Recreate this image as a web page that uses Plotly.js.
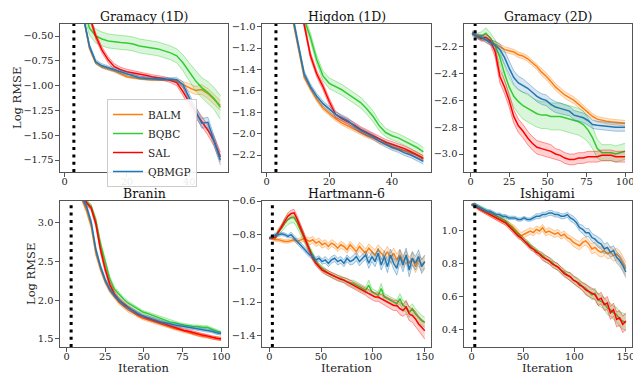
<!DOCTYPE html>
<html><head><meta charset="utf-8">
<script src="https://cdn.plot.ly/plotly-3.0.1.min.js"></script>
<style>html,body{margin:0;padding:0;background:#fff;overflow:hidden}#chart{width:633px;height:375px}</style>
</head><body><div id="chart"></div>
<script>
// ---------- data ----------
const methods = ['BALM','BQBC','SAL','QBMGP'];
const panelTitles = ['Gramacy (1D)','Higdon (1D)','Gramacy (2D)','Branin','Hartmann-6','Ishigami'];

const x50 = [2,4,6,8,10,12,14,16,18,20,22,24,26,28,30,32,34,36,38,40,42,44,46,48,50];
const x100 = [1,4,7,10,13,16,19,22,25,28,31,34,37,40,43,46,49,52,55,58,61,64,67,70,73,76,79,82,85,88,91,94,97,100];
const x150 = [0,3,6,9,12,15,18,21,24,27,30,33,36,39,42,45,48,51,54,57,60,63,66,69,72,75,78,81,84,87,90,93,96,99,102,105,108,111,114,117,120,123,126,129,132,135,138,141,144,147,150];

// Gramacy (1D)
const g1_balm = [0.1,-0.1,-0.3,-0.62,-0.77,-0.81,-0.83,-0.85,-0.88,-0.91,-0.92,-0.93,-0.935,-0.94,-0.94,-0.94,-0.94,-0.95,-0.99,-1.02,-1.05,-1.04,-1.08,-1.14,-1.2];
const g1_bqbc = [0.3,0.1,-0.2,-0.42,-0.5,-0.53,-0.55,-0.56,-0.565,-0.57,-0.58,-0.6,-0.61,-0.62,-0.63,-0.65,-0.67,-0.7,-0.77,-0.86,-0.95,-1.02,-1.07,-1.13,-1.22];
const g1_sal = [0.3,0.1,-0.1,-0.3,-0.5,-0.64,-0.74,-0.81,-0.84,-0.86,-0.87,-0.885,-0.895,-0.91,-0.92,-0.93,-0.95,-0.97,-1.06,-1.17,-1.27,-1.36,-1.45,-1.56,-1.72];
const g1_qbmgp = [0.1,-0.1,-0.3,-0.6,-0.76,-0.8,-0.82,-0.84,-0.86,-0.88,-0.9,-0.92,-0.925,-0.93,-0.93,-0.935,-0.935,-0.94,-0.99,-1.12,-1.24,-1.38,-1.37,-1.57,-1.75];
const g1_balm_sd = [0.02,0.02,0.02,0.02,0.015,0.015,0.015,0.015,0.015,0.01,0.01,0.01,0.01,0.01,0.01,0.01,0.01,0.015,0.03,0.04,0.04,0.05,0.05,0.05,0.05];
const g1_bqbc_sd = [0.07,0.07,0.07,0.07,0.07,0.07,0.07,0.07,0.07,0.07,0.07,0.07,0.07,0.07,0.07,0.07,0.07,0.07,0.08,0.09,0.1,0.1,0.11,0.11,0.12];
const g1_sal_sd = [0.03,0.03,0.03,0.03,0.03,0.03,0.03,0.03,0.025,0.025,0.02,0.02,0.02,0.02,0.02,0.02,0.02,0.03,0.04,0.04,0.05,0.05,0.05,0.05,0.05];
const g1_qbmgp_sd = [0.02,0.02,0.02,0.02,0.02,0.02,0.02,0.02,0.02,0.015,0.015,0.015,0.015,0.015,0.015,0.015,0.015,0.02,0.03,0.04,0.04,0.05,0.05,0.05,0.05];

// Higdon (1D)
const h_balm = [0.0,-0.3,-0.6,-0.87,-1.17,-1.47,-1.58,-1.68,-1.76,-1.81,-1.86,-1.9,-1.93,-1.96,-1.99,-2.02,-2.04,-2.07,-2.09,-2.12,-2.14,-2.16,-2.18,-2.2,-2.24];
const h_bqbc = [0.0,-0.2,-0.4,-0.6,-0.78,-0.93,-1.1,-1.31,-1.46,-1.53,-1.56,-1.59,-1.63,-1.67,-1.71,-1.77,-1.84,-1.93,-1.99,-2.02,-2.04,-2.07,-2.1,-2.13,-2.17];
const h_sal = [0.0,-0.2,-0.4,-0.6,-0.8,-0.98,-1.27,-1.44,-1.56,-1.7,-1.82,-1.86,-1.89,-1.92,-1.96,-1.99,-2.02,-2.05,-2.08,-2.1,-2.12,-2.14,-2.17,-2.2,-2.23];
const h_qbmgp = [0.0,-0.3,-0.6,-0.85,-1.15,-1.44,-1.56,-1.65,-1.72,-1.77,-1.82,-1.85,-1.88,-1.93,-1.97,-2.0,-2.03,-2.07,-2.1,-2.13,-2.15,-2.18,-2.2,-2.23,-2.26];
const h_balm_sd = [0.02,0.02,0.02,0.02,0.02,0.02,0.02,0.02,0.02,0.02,0.02,0.02,0.02,0.02,0.02,0.02,0.02,0.02,0.02,0.02,0.02,0.02,0.02,0.02,0.02];
const h_bqbc_sd = [0.04,0.04,0.04,0.04,0.04,0.04,0.04,0.04,0.045,0.05,0.05,0.05,0.05,0.05,0.05,0.05,0.05,0.045,0.04,0.04,0.04,0.04,0.04,0.04,0.04];
const h_sal_sd = [0.025,0.025,0.025,0.025,0.025,0.025,0.03,0.03,0.03,0.03,0.03,0.025,0.025,0.025,0.025,0.025,0.025,0.025,0.025,0.025,0.025,0.025,0.025,0.025,0.025];
const h_qbmgp_sd = [0.025,0.025,0.025,0.025,0.025,0.025,0.025,0.025,0.025,0.025,0.025,0.025,0.025,0.025,0.025,0.025,0.025,0.025,0.025,0.025,0.025,0.025,0.025,0.025,0.025];

// Gramacy (2D)
const g2_balm = [-2.10,-2.12,-2.13,-2.15,-2.17,-2.18,-2.20,-2.22,-2.23,-2.24,-2.26,-2.27,-2.29,-2.32,-2.35,-2.39,-2.42,-2.46,-2.50,-2.53,-2.56,-2.58,-2.60,-2.63,-2.66,-2.69,-2.72,-2.74,-2.75,-2.755,-2.76,-2.765,-2.77,-2.77];
const g2_bqbc = [-2.10,-2.12,-2.12,-2.10,-2.14,-2.19,-2.28,-2.40,-2.50,-2.57,-2.61,-2.64,-2.66,-2.68,-2.70,-2.71,-2.71,-2.72,-2.72,-2.72,-2.73,-2.74,-2.75,-2.76,-2.78,-2.82,-2.88,-2.96,-2.99,-2.99,-2.99,-3.0,-2.99,-2.98];
const g2_sal = [-2.10,-2.12,-2.14,-2.13,-2.16,-2.24,-2.42,-2.50,-2.60,-2.72,-2.79,-2.83,-2.88,-2.92,-2.95,-2.96,-2.97,-2.98,-3.0,-3.01,-3.03,-3.04,-3.04,-3.03,-3.03,-3.02,-3.02,-3.02,-3.01,-3.01,-3.01,-3.02,-3.02,-3.02];
const g2_qbmgp = [-2.10,-2.12,-2.13,-2.15,-2.17,-2.19,-2.22,-2.28,-2.36,-2.43,-2.47,-2.49,-2.51,-2.54,-2.57,-2.59,-2.60,-2.63,-2.65,-2.66,-2.67,-2.68,-2.71,-2.72,-2.73,-2.75,-2.78,-2.785,-2.79,-2.79,-2.795,-2.8,-2.8,-2.8];
const g2_balm_sd = [0.01,0.01,0.015,0.015,0.015,0.02,0.02,0.02,0.02,0.02,0.02,0.02,0.02,0.02,0.02,0.025,0.025,0.025,0.025,0.025,0.025,0.025,0.025,0.025,0.025,0.025,0.02,0.02,0.02,0.02,0.02,0.02,0.02,0.02];
const g2_bqbc_sd = [0.02,0.02,0.03,0.04,0.04,0.04,0.05,0.06,0.07,0.08,0.09,0.1,0.1,0.1,0.1,0.1,0.1,0.1,0.1,0.1,0.1,0.1,0.1,0.1,0.1,0.09,0.08,0.07,0.06,0.06,0.06,0.06,0.06,0.06];
const g2_sal_sd = [0.01,0.015,0.02,0.02,0.03,0.04,0.05,0.05,0.05,0.05,0.05,0.05,0.05,0.05,0.05,0.05,0.05,0.05,0.04,0.04,0.04,0.04,0.04,0.04,0.04,0.04,0.04,0.04,0.04,0.04,0.04,0.04,0.04,0.04];
const g2_qbmgp_sd = [0.01,0.015,0.02,0.02,0.02,0.03,0.04,0.05,0.05,0.05,0.05,0.05,0.04,0.04,0.04,0.04,0.04,0.04,0.04,0.04,0.035,0.035,0.035,0.035,0.035,0.035,0.03,0.03,0.03,0.03,0.03,0.03,0.03,0.03];

// Branin
const b_balm = [4.0,3.8,3.55,3.3,3.15,2.95,2.6,2.4,2.24,2.12,2.04,1.97,1.92,1.87,1.84,1.80,1.77,1.75,1.73,1.71,1.69,1.67,1.65,1.63,1.62,1.60,1.59,1.57,1.56,1.54,1.53,1.52,1.51,1.50];
const b_bqbc = [4.1,3.9,3.65,3.4,3.26,3.2,3.02,2.72,2.48,2.27,2.14,2.07,2.01,1.96,1.92,1.88,1.85,1.83,1.81,1.78,1.76,1.74,1.72,1.71,1.69,1.68,1.67,1.66,1.66,1.65,1.65,1.63,1.6,1.58];
const b_sal = [4.1,3.9,3.65,3.4,3.25,3.18,2.98,2.65,2.4,2.2,2.08,2.0,1.95,1.9,1.86,1.82,1.79,1.77,1.75,1.73,1.71,1.69,1.67,1.65,1.63,1.61,1.6,1.58,1.56,1.55,1.54,1.52,1.51,1.5];
const b_qbmgp = [4.0,3.8,3.55,3.32,3.2,3.0,2.65,2.43,2.26,2.14,2.06,2.0,1.94,1.9,1.86,1.83,1.8,1.78,1.76,1.74,1.72,1.71,1.69,1.68,1.67,1.66,1.65,1.64,1.63,1.62,1.61,1.6,1.58,1.57];
const b_balm_sd = [0.03,0.03,0.03,0.03,0.03,0.03,0.03,0.03,0.03,0.025,0.025,0.025,0.025,0.025,0.025,0.02,0.02,0.02,0.02,0.02,0.02,0.02,0.02,0.02,0.02,0.02,0.02,0.02,0.02,0.02,0.02,0.02,0.02,0.02];
const b_bqbc_sd = [0.03,0.03,0.03,0.03,0.03,0.03,0.04,0.04,0.04,0.035,0.03,0.03,0.025,0.025,0.025,0.025,0.02,0.02,0.02,0.02,0.02,0.02,0.02,0.02,0.02,0.02,0.02,0.02,0.02,0.02,0.02,0.02,0.02,0.02];
const b_sal_sd = [0.03,0.03,0.03,0.03,0.03,0.03,0.04,0.04,0.04,0.035,0.03,0.03,0.025,0.025,0.025,0.025,0.02,0.02,0.02,0.02,0.02,0.02,0.02,0.02,0.02,0.02,0.02,0.02,0.02,0.02,0.02,0.02,0.02,0.02];
const b_qbmgp_sd = [0.03,0.03,0.03,0.03,0.03,0.03,0.03,0.03,0.03,0.025,0.025,0.025,0.025,0.025,0.025,0.02,0.02,0.02,0.02,0.02,0.02,0.02,0.02,0.02,0.02,0.02,0.02,0.02,0.02,0.02,0.02,0.02,0.02,0.02];

// Hartmann-6
const hm_balm = [-0.82,-0.825,-0.83,-0.83,-0.835,-0.84,-0.84,-0.835,-0.83,-0.84,-0.83,-0.825,-0.83,-0.84,-0.83,-0.85,-0.84,-0.86,-0.85,-0.87,-0.85,-0.86,-0.88,-0.86,-0.87,-0.89,-0.86,-0.88,-0.9,-0.87,-0.89,-0.91,-0.88,-0.9,-0.92,-0.89,-0.91,-0.93,-0.9,-0.94,-0.91,-0.95,-0.92,-0.96,-0.93,-0.97,-0.94,-0.99,-0.95,-0.98,-0.96];
const hm_bqbc = [-0.82,-0.82,-0.815,-0.78,-0.76,-0.73,-0.71,-0.70,-0.70,-0.73,-0.77,-0.81,-0.85,-0.89,-0.93,-0.96,-0.985,-1.0,-1.02,-1.03,-1.04,-1.05,-1.055,-1.06,-1.07,-1.08,-1.085,-1.09,-1.1,-1.11,-1.12,-1.13,-1.1,-1.14,-1.15,-1.16,-1.12,-1.17,-1.18,-1.19,-1.2,-1.21,-1.18,-1.22,-1.23,-1.26,-1.24,-1.27,-1.29,-1.31,-1.32];
const hm_sal = [-0.82,-0.82,-0.815,-0.78,-0.75,-0.72,-0.69,-0.675,-0.67,-0.71,-0.75,-0.8,-0.85,-0.9,-0.94,-0.97,-0.99,-1.01,-1.02,-1.03,-1.04,-1.05,-1.06,-1.065,-1.07,-1.08,-1.09,-1.1,-1.11,-1.12,-1.13,-1.14,-1.15,-1.16,-1.17,-1.17,-1.18,-1.19,-1.2,-1.21,-1.22,-1.22,-1.24,-1.25,-1.23,-1.27,-1.28,-1.3,-1.33,-1.35,-1.37];
const hm_qbmgp = [-0.82,-0.81,-0.80,-0.80,-0.795,-0.80,-0.81,-0.80,-0.82,-0.84,-0.86,-0.88,-0.9,-0.92,-0.93,-0.95,-0.94,-0.96,-0.95,-0.97,-0.95,-0.94,-0.96,-0.95,-0.97,-0.94,-0.96,-0.95,-0.93,-0.96,-0.94,-0.92,-0.97,-0.93,-0.96,-0.91,-0.98,-0.93,-0.99,-0.92,-0.97,-1.0,-0.93,-0.98,-0.92,-1.01,-0.94,-0.97,-0.93,-0.99,-0.96];
const hm_balm_sd = [0.005,0.005,0.01,0.01,0.01,0.01,0.01,0.01,0.01,0.015,0.015,0.015,0.015,0.02,0.02,0.02,0.02,0.02,0.02,0.02,0.02,0.02,0.02,0.02,0.02,0.02,0.02,0.02,0.02,0.025,0.025,0.025,0.025,0.025,0.03,0.03,0.03,0.03,0.03,0.03,0.03,0.035,0.035,0.035,0.035,0.035,0.035,0.035,0.035,0.035,0.035];
const hm_bqbc_sd = [0.005,0.005,0.01,0.02,0.02,0.03,0.03,0.03,0.03,0.03,0.03,0.02,0.02,0.02,0.02,0.015,0.015,0.015,0.015,0.015,0.015,0.015,0.015,0.015,0.015,0.015,0.015,0.02,0.02,0.02,0.02,0.02,0.03,0.02,0.02,0.02,0.03,0.02,0.02,0.02,0.02,0.02,0.03,0.03,0.03,0.03,0.03,0.03,0.03,0.03,0.03];
const hm_sal_sd = [0.005,0.005,0.01,0.01,0.015,0.015,0.02,0.02,0.02,0.02,0.02,0.02,0.02,0.015,0.015,0.015,0.015,0.015,0.015,0.015,0.015,0.015,0.015,0.015,0.015,0.02,0.02,0.02,0.02,0.02,0.02,0.02,0.025,0.025,0.025,0.025,0.025,0.03,0.03,0.03,0.03,0.03,0.035,0.035,0.04,0.04,0.04,0.045,0.045,0.05,0.05];
const hm_qbmgp_sd = [0.005,0.005,0.01,0.01,0.01,0.01,0.01,0.015,0.015,0.015,0.015,0.015,0.015,0.015,0.015,0.015,0.015,0.015,0.02,0.02,0.02,0.02,0.02,0.02,0.02,0.02,0.02,0.025,0.025,0.025,0.025,0.025,0.03,0.03,0.03,0.03,0.03,0.035,0.035,0.035,0.035,0.04,0.04,0.04,0.04,0.04,0.04,0.04,0.04,0.04,0.04];

// Ishigami
const is_balm = [1.16,1.16,1.14,1.13,1.12,1.11,1.10,1.09,1.08,1.07,1.06,1.05,1.04,1.03,1.01,0.99,0.97,0.98,0.99,1.00,0.99,1.01,1.00,1.02,0.99,1.00,0.99,0.98,0.99,0.97,0.98,0.96,0.95,0.93,0.92,0.91,0.93,0.94,0.92,0.89,0.90,0.88,0.87,0.88,0.86,0.87,0.85,0.86,0.84,0.80,0.77];
const is_bqbc = [1.16,1.16,1.15,1.14,1.13,1.12,1.11,1.10,1.09,1.08,1.07,1.06,1.04,1.02,1.00,0.98,0.96,0.94,0.93,0.91,0.89,0.88,0.86,0.85,0.83,0.82,0.81,0.79,0.78,0.76,0.75,0.73,0.72,0.70,0.69,0.68,0.66,0.65,0.63,0.61,0.62,0.58,0.57,0.56,0.53,0.52,0.50,0.49,0.46,0.45,0.44];
const is_sal = [1.16,1.16,1.14,1.13,1.12,1.11,1.10,1.09,1.08,1.07,1.06,1.05,1.03,1.01,0.99,0.97,0.96,0.94,0.92,0.90,0.89,0.87,0.86,0.84,0.83,0.82,0.80,0.79,0.78,0.76,0.74,0.73,0.72,0.70,0.69,0.67,0.66,0.64,0.63,0.62,0.61,0.58,0.59,0.55,0.56,0.50,0.52,0.46,0.47,0.43,0.45];
const is_qbmgp = [1.16,1.16,1.15,1.14,1.13,1.12,1.12,1.11,1.10,1.10,1.09,1.09,1.08,1.08,1.08,1.07,1.07,1.08,1.07,1.07,1.08,1.09,1.09,1.10,1.10,1.11,1.11,1.10,1.10,1.09,1.09,1.10,1.08,1.07,1.05,1.02,1.01,0.99,0.99,0.96,0.95,0.93,0.92,0.89,0.90,0.87,0.88,0.84,0.82,0.79,0.75];
const is_balm_sd = [0.005,0.01,0.01,0.01,0.015,0.015,0.015,0.015,0.015,0.015,0.015,0.015,0.015,0.015,0.02,0.02,0.02,0.02,0.02,0.02,0.02,0.02,0.02,0.02,0.02,0.02,0.02,0.02,0.02,0.02,0.02,0.02,0.02,0.025,0.025,0.025,0.025,0.025,0.025,0.03,0.03,0.03,0.03,0.03,0.03,0.035,0.035,0.035,0.04,0.04,0.04];
const is_bqbc_sd = [0.005,0.01,0.01,0.01,0.01,0.01,0.01,0.01,0.01,0.01,0.015,0.015,0.015,0.015,0.015,0.015,0.015,0.015,0.015,0.015,0.015,0.015,0.015,0.02,0.02,0.02,0.02,0.02,0.02,0.02,0.02,0.02,0.025,0.025,0.025,0.025,0.025,0.03,0.03,0.03,0.03,0.035,0.035,0.035,0.04,0.04,0.04,0.045,0.045,0.05,0.05];
const is_sal_sd = [0.005,0.01,0.01,0.01,0.01,0.01,0.01,0.01,0.01,0.01,0.015,0.015,0.015,0.015,0.015,0.015,0.015,0.015,0.015,0.015,0.015,0.015,0.015,0.02,0.02,0.02,0.02,0.02,0.02,0.02,0.02,0.02,0.025,0.025,0.025,0.025,0.025,0.03,0.03,0.03,0.03,0.035,0.035,0.035,0.04,0.04,0.04,0.045,0.045,0.05,0.05];
const is_qbmgp_sd = [0.005,0.01,0.01,0.01,0.01,0.01,0.01,0.01,0.01,0.01,0.01,0.01,0.01,0.01,0.01,0.01,0.01,0.01,0.01,0.01,0.01,0.015,0.015,0.015,0.015,0.015,0.015,0.015,0.015,0.015,0.015,0.015,0.02,0.02,0.02,0.02,0.025,0.025,0.025,0.025,0.025,0.03,0.03,0.03,0.03,0.03,0.03,0.035,0.035,0.035,0.035];

const initialDesign = 3; // dotted vertical line at iteration 3

// ---------- build ----------
const colors = {BALM:[255,127,14], BQBC:[50,205,50], SAL:[255,0,0], QBMGP:[31,119,180]};
const rgba = (c,a)=>`rgba(${c[0]},${c[1]},${c[2]},${a})`;

const panels = [
  {x:x50, d:{BALM:[g1_balm,g1_balm_sd],BQBC:[g1_bqbc,g1_bqbc_sd],SAL:[g1_sal,g1_sal_sd],QBMGP:[g1_qbmgp,g1_qbmgp_sd]}},
  {x:x50, d:{BALM:[h_balm,h_balm_sd],BQBC:[h_bqbc,h_bqbc_sd],SAL:[h_sal,h_sal_sd],QBMGP:[h_qbmgp,h_qbmgp_sd]}},
  {x:x100, d:{BALM:[g2_balm,g2_balm_sd],BQBC:[g2_bqbc,g2_bqbc_sd],SAL:[g2_sal,g2_sal_sd],QBMGP:[g2_qbmgp,g2_qbmgp_sd]}},
  {x:x100, d:{BALM:[b_balm,b_balm_sd],BQBC:[b_bqbc,b_bqbc_sd],SAL:[b_sal,b_sal_sd],QBMGP:[b_qbmgp,b_qbmgp_sd]}},
  {x:x150, d:{BALM:[hm_balm,hm_balm_sd],BQBC:[hm_bqbc,hm_bqbc_sd],SAL:[hm_sal,hm_sal_sd],QBMGP:[hm_qbmgp,hm_qbmgp_sd]}},
  {x:x150, d:{BALM:[is_balm,is_balm_sd],BQBC:[is_bqbc,is_bqbc_sd],SAL:[is_sal,is_sal_sd],QBMGP:[is_qbmgp,is_qbmgp_sd]}}
];

const traces = [];
panels.forEach((p, i) => {
  const xa = i===0 ? 'x' : 'x'+(i+1);
  const ya = i===0 ? 'y' : 'y'+(i+1);
  methods.forEach(m => {
    const [mean, sd] = p.d[m];
    const c = colors[m];
    const lo = mean.map((v,k)=>v-sd[k]);
    const hi = mean.map((v,k)=>v+sd[k]);
    traces.push({x:p.x, y:lo, xaxis:xa, yaxis:ya, mode:'lines', line:{color:rgba(c,0.5), width:0.8}, showlegend:false, hoverinfo:'skip'});
    traces.push({x:p.x, y:hi, xaxis:xa, yaxis:ya, mode:'lines', fill:'tonexty', fillcolor:rgba(c,0.18), line:{color:rgba(c,0.5), width:0.8}, showlegend:false, hoverinfo:'skip'});
    traces.push({x:p.x, y:mean, xaxis:xa, yaxis:ya, mode:'lines', line:{color:rgba(c,1), width:1.5}, name:m, showlegend:i===0});
  });
});

const W=633, H=375;
const colDom = [[60/W,228/W],[262/W,431/W],[464/W,632/W]];
const rowDom = [[1-172/H,1-24/H],[1-347/H,1-201/H]];
const font = 'DejaVu Serif';
const axBase = {showline:true, mirror:true, linecolor:'#555', linewidth:1.1, ticks:'outside', ticklen:3.5, tickwidth:1, tickcolor:'#555', showgrid:false, zeroline:false, tickfont:{family:font,size:9.8,color:'#222'}, automargin:false, ticklabeloverflow:'allow'};

const xr = [[-1.45,52.45],[-1.45,52.45],[-4.2,104.5],[-4.2,104.5],[-7,156],[-7.5,156]];
const xdt = [20,20,25,25,50,50];
const yr = [[-1.871,-0.379],[-2.359,-0.975],[-3.134,-2.031],[1.397,3.274],[-1.467,-0.6],[0.292,1.183]];
const ydt = [0.25,0.2,0.2,0.5,0.2,0.2];
const yt0 = [-0.5,-1.0,-3.0,1.5,-0.6,0.4];
const yfmt = ['.2f','.1f','.1f','.1f','.1f','.1f'];

const layout = {width:W, height:H, margin:{l:0,r:0,t:0,b:0}, paper_bgcolor:'#fff', plot_bgcolor:'#fff',
  font:{family:font, color:'#222'},
  legend:{x:107/W, y:1-99/H, xanchor:'left', yanchor:'top', traceorder:'normal', bgcolor:'rgba(255,255,255,0.9)', bordercolor:'#ccc', borderwidth:1, font:{family:font,size:10.5,color:'#222'}, itemwidth:30, tracegroupgap:0},
  shapes:[], annotations:[]};

const titleFont = {family:font,size:11.5,color:'#222'};
const yTitleX = [17, 31];
for (let i=0;i<6;i++){
  const col=i%3, row=Math.floor(i/3);
  const sx = i===0?'':String(i+1);
  layout['xaxis'+sx] = Object.assign({}, axBase, {domain:colDom[col], range:xr[i], dtick:xdt[i], tick0:0, anchor:'y'+sx, ticklabelstandoff:-3});
  layout['yaxis'+sx] = Object.assign({}, axBase, {domain:rowDom[row], range:yr[i], dtick:ydt[i], tick0:yt0[i], tickformat:yfmt[i], anchor:'x'+sx});
  layout.shapes.push({type:'line', xref:'x'+sx, yref:'y'+sx+' domain', x0:initialDesign, x1:initialDesign, y0:0, y1:1, line:{color:'#000', width:3, dash:'3px,4.3px'}, layer:'above'});
  layout.annotations.push({text:panelTitles[i], xref:'paper', yref:'paper', x:(colDom[col][0]+colDom[col][1])/2, y:rowDom[row][1], xanchor:'center', yanchor:'bottom', yshift:-2, showarrow:false, font:{family:font,size:12.5,color:'#111'}});
  if (row===1) layout.annotations.push({text:'Iteration', xref:'paper', yref:'paper', x:(colDom[col][0]+colDom[col][1])/2, y:1-368/H, xanchor:'center', yanchor:'middle', showarrow:false, font:titleFont});
  if (col===0) layout.annotations.push({text:'Log RMSE', xref:'paper', yref:'paper', x:yTitleX[row]/W, y:(rowDom[row][0]+rowDom[row][1])/2, xanchor:'center', yanchor:'middle', textangle:-90, showarrow:false, font:titleFont});
}

Plotly.newPlot('chart', traces, layout, {displayModeBar:false, staticPlot:true});
</script>
</body></html>
